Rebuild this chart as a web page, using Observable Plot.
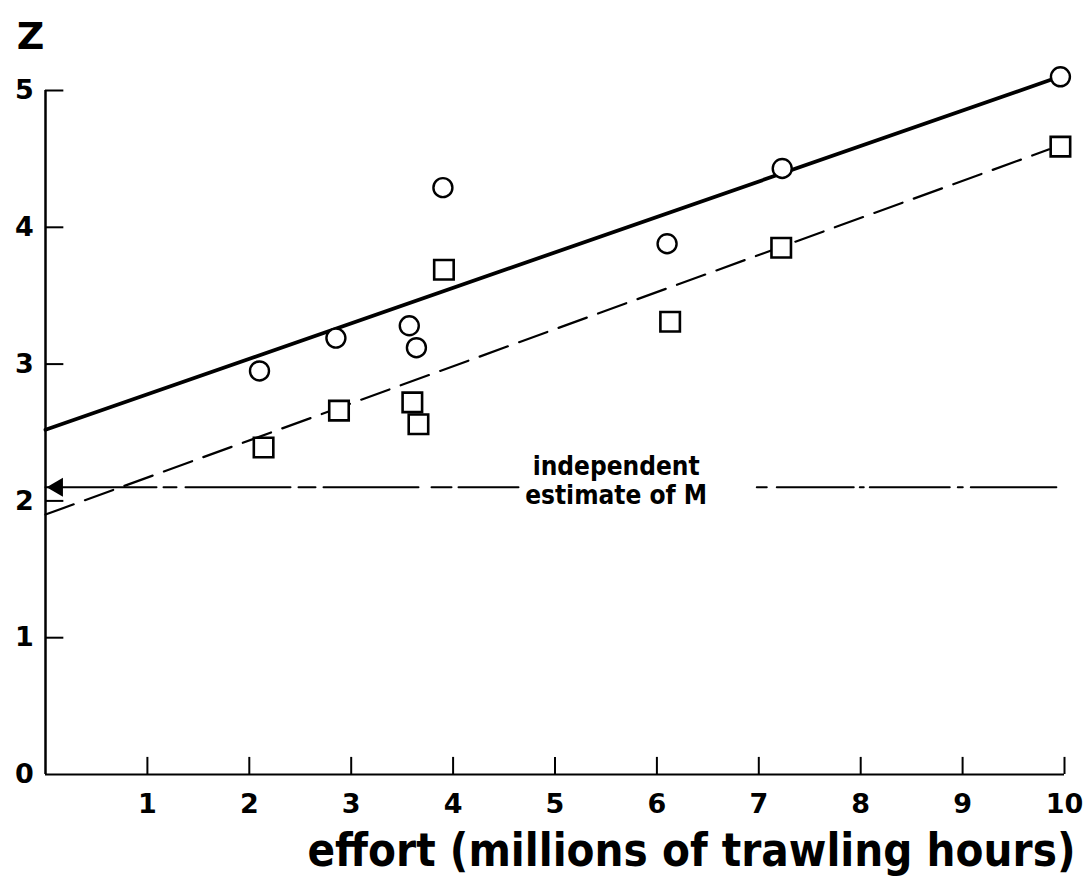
<!DOCTYPE html>
<html>
<head>
<meta charset="utf-8">
<script src="https://cdn.jsdelivr.net/npm/d3@7"></script>
<script src="https://cdn.jsdelivr.net/npm/@observablehq/plot@0.6"></script>
<style>
  html, body { margin: 0; padding: 0; background: #fff; }
  #chart svg { display: block; }
</style>
</head>
<body>
<div id="chart"></div>
<script>
// Tick values
const xTicks = [1, 2, 3, 4, 5, 6, 7, 8, 9, 10];
const yTicks = [0, 1, 2, 3, 4, 5];

// Circles (open circles series)
const effortCircle = [2.10, 2.85, 3.57, 3.64, 3.90, 6.10, 7.23, 9.96];
const zCircle      = [2.95, 3.19, 3.28, 3.12, 4.29, 3.88, 4.43, 5.10];

// Squares series
const effortSquare = [2.14, 2.88, 3.60, 3.66, 3.91, 6.13, 7.22, 9.96];
const zSquare      = [2.39, 2.66, 2.72, 2.56, 3.69, 3.31, 3.85, 4.59];

// Fitted lines (end points)
const solidFitX = [0, 9.95];
const solidFitY = [2.52, 5.10];
const dashedFitX = [0, 9.85];
const dashedFitY = [1.90, 4.57];

// Independent estimate of M
const M = 2.1;
const mLeftX = [0, 4.66];
const mRightX = [6.98, 9.92];
const mLabel = "independent\nestimate of M";
const mLabelX = 5.6;

const xLabel = "effort (millions of trawling hours)";
const yLabel = "Z";

const circles = effortCircle.map((x, i) => ({x, y: zCircle[i]}));
const squares = effortSquare.map((x, i) => ({x, y: zSquare[i]}));
const solidFit = solidFitX.map((x, i) => ({x, y: solidFitY[i]}));
const dashedFit = dashedFitX.map((x, i) => ({x, y: dashedFitY[i]}));
const mLeft = mLeftX.map(x => ({x, y: M}));
const mRight = mRightX.map(x => ({x, y: M}));

const FONT = "'DejaVu Sans', sans-serif";

const chart = Plot.plot({
  width: 1092,
  height: 886,
  marginLeft: 45,
  marginRight: 28,
  marginTop: 90,
  marginBottom: 112,
  style: {fontFamily: FONT, background: "white", color: "black"},
  x: {domain: [0, 10]},
  y: {domain: [0, 5]},
  marks: [
    // axis lines
    Plot.ruleY([0], {x1: 0, x2: 10, stroke: "black", strokeWidth: 2}),
    Plot.ruleX([0], {y1: 0, y2: 5, stroke: "black", strokeWidth: 2.5}),
    // inward ticks (about 17 px long)
    Plot.ruleX(xTicks, {x: d => d, y1: 0, y2: 0.125, stroke: "black", strokeWidth: 2}),
    Plot.ruleY(yTicks.filter(d => d > 0), {y: d => d, x1: 0, x2: 0.18, stroke: "black", strokeWidth: 2}),
    // tick labels
    Plot.axisX({ticks: xTicks, tickFormat: d => String(d), tickSize: 0, tickPadding: 19, fontSize: 27, fontWeight: "bold", label: null}),
    Plot.axisY({ticks: yTicks, tickFormat: d => String(d), tickSize: 0, tickPadding: 21, textAnchor: "middle", fontSize: 27, fontWeight: "bold", label: null}),
    // M line
    Plot.line(mLeft, {x: "x", y: "y", stroke: "black", strokeWidth: 2, strokeDasharray: "111,7,13,9,105,8,17,8,95,13,20,7,60,300"}),
    Plot.line(mRight, {x: "x", y: "y", stroke: "black", strokeWidth: 2, strokeDasharray: "10,10,77,6,4,6,80,8,5,8,86,300"}),
    Plot.dot([{x: 0, y: M}], {x: "x", y: "y", symbol: "triangle2", rotate: -90, r: 9, dx: 12, fill: "black", stroke: "none"}),
    Plot.text([mLabel], {x: mLabelX, y: M, dy: -7, fontSize: 26, fontWeight: "bold", lineHeight: 1.12, lineAnchor: "middle", fontFamily: "'DejaVu Sans Condensed', sans-serif", fill: "black"}),
    // fitted lines
    Plot.line(solidFit, {x: "x", y: "y", stroke: "black", strokeWidth: 3.8}),
    Plot.line(dashedFit, {x: "x", y: "y", stroke: "black", strokeWidth: 2.2, strokeDasharray: "30,12"}),
    // points
    Plot.dot(circles, {x: "x", y: "y", r: 9.5, fill: "white", stroke: "black", strokeWidth: 2.4}),
    Plot.dot(squares, {x: "x", y: "y", symbol: "square", r: 11, fill: "white", stroke: "black", strokeWidth: 2.6}),
    // axis titles
    Plot.text([yLabel], {frameAnchor: "top-left", textAnchor: "middle", dx: -15, dy: -54, lineAnchor: "middle", fontSize: 38, fontWeight: "bold", fill: "black"}),
    Plot.text([xLabel], {frameAnchor: "bottom-left", textAnchor: "middle", dx: 646, dy: 77, lineAnchor: "middle", fontSize: 46, fontWeight: "bold", fontFamily: "'DejaVu Sans Condensed', sans-serif", fill: "black"})
  ]
});

// squeeze the x-axis title to the original's width
d3.select(chart).selectAll("text").filter(function() { return this.textContent === xLabel; })
  .attr("textLength", 768).attr("lengthAdjust", "spacingAndGlyphs");

document.getElementById("chart").appendChild(chart);
</script>
</body>
</html>
